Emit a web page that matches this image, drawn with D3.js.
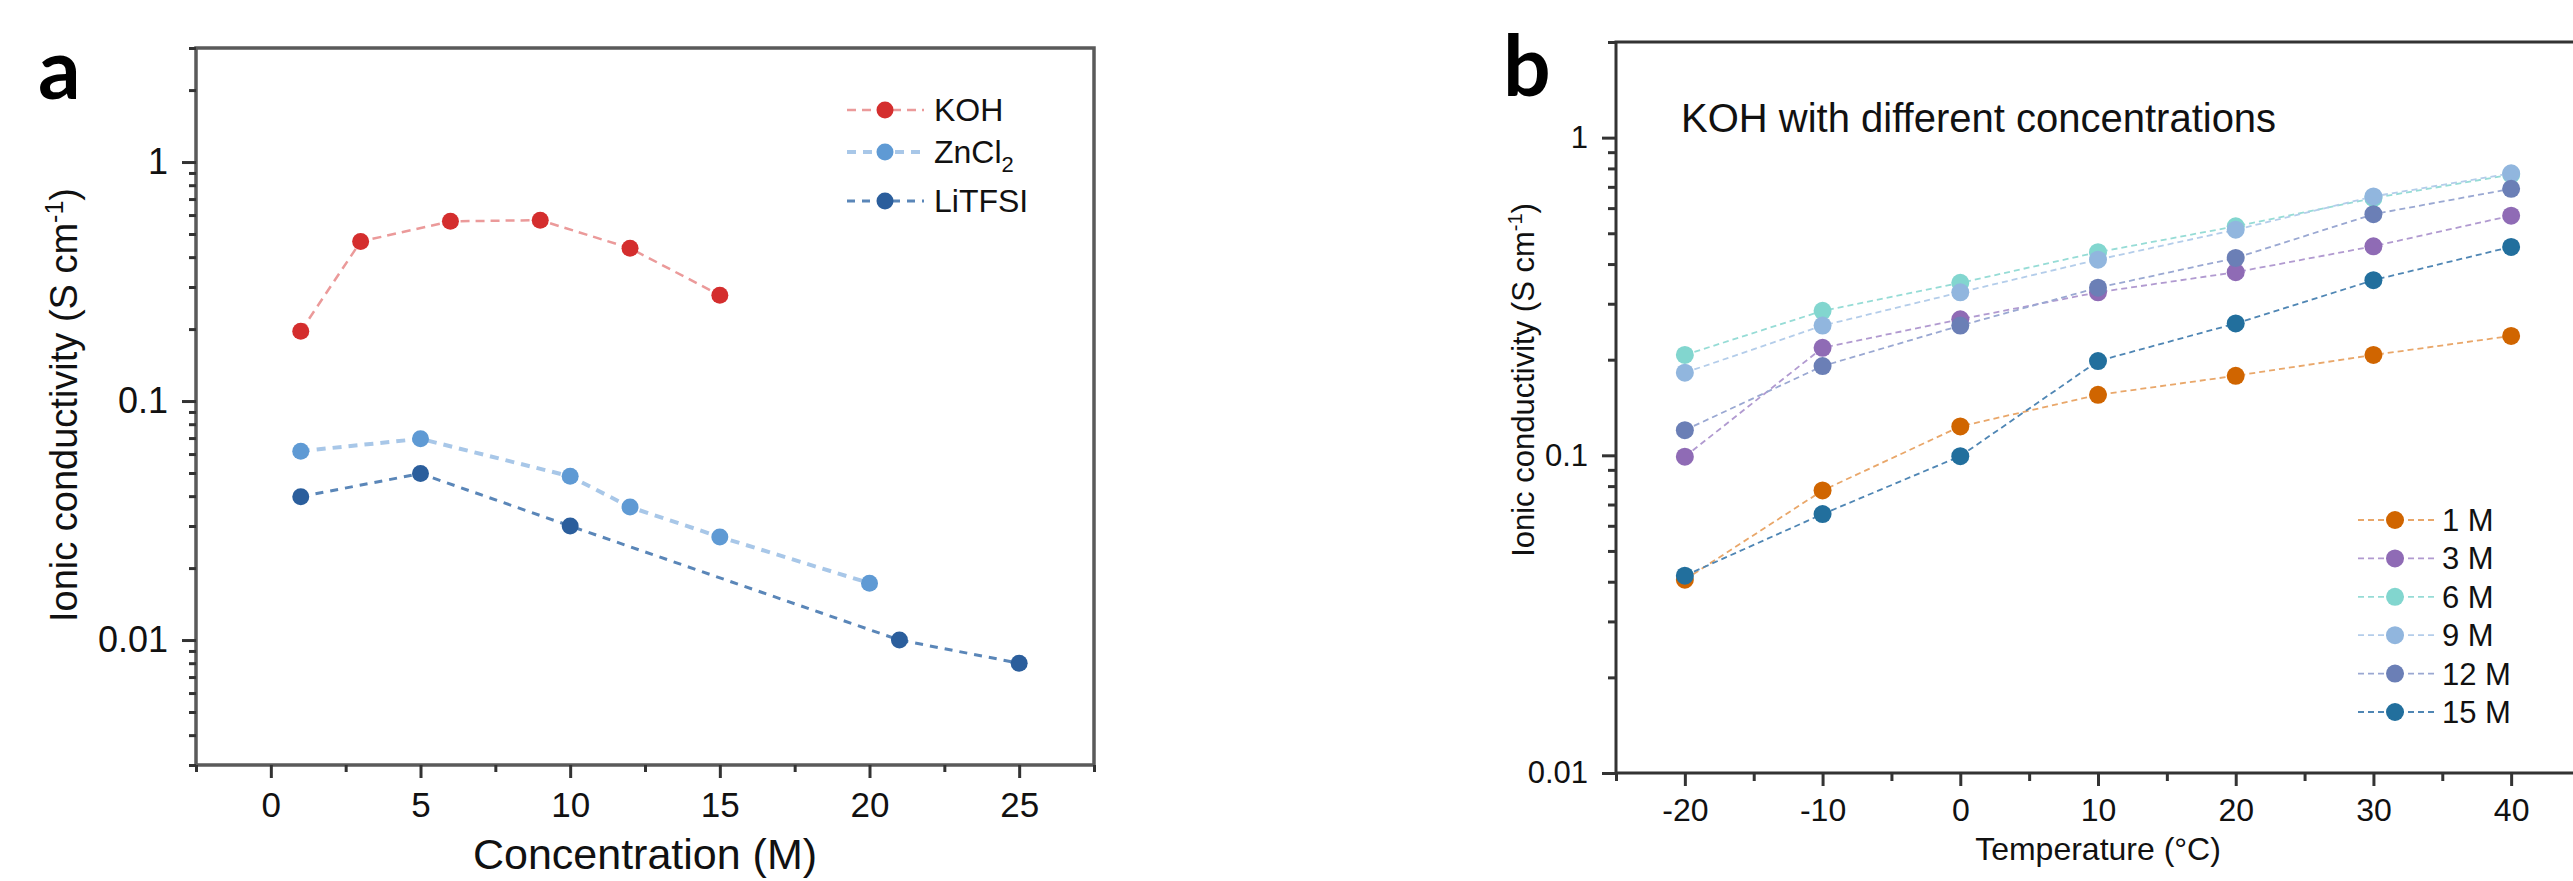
<!DOCTYPE html>
<html>
<head>
<meta charset="utf-8">
<script src="https://cdn.jsdelivr.net/npm/d3@7"></script>
<style>
  body { margin: 0; background: #fff; }
  text { font-family: "Liberation Sans", Arial, sans-serif; fill: #111; }
</style>
</head>
<body>
<div id="chart"></div>
<script>
// panel a: conductivity vs concentration
var concKOH = [1, 3, 6, 9, 12, 15];
var sigmaKOH = [0.196, 0.465, 0.565, 0.571, 0.436, 0.277];
var concZnCl2 = [1, 5, 10, 12, 15, 20];
var sigmaZnCl2 = [0.0617, 0.0695, 0.0484, 0.036, 0.027, 0.0173];
var concLiTFSI = [1, 5, 10, 21, 25];
var sigmaLiTFSI = [0.0398, 0.0497, 0.030, 0.010, 0.0080];
var concTicks = [0, 5, 10, 15, 20, 25];

// panel b: KOH conductivity vs temperature
var temps = [-20, -10, 0, 10, 20, 30, 40];
var koh1M = [0.0406, 0.0775, 0.1233, 0.155, 0.178, 0.207, 0.2376];
var koh3M = [0.099, 0.218, 0.268, 0.326, 0.377, 0.455, 0.568];
var koh6M = [0.207, 0.285, 0.349, 0.436, 0.526, 0.645, 0.765];
var koh9M = [0.182, 0.256, 0.326, 0.413, 0.513, 0.653, 0.772];
var koh12M = [0.120, 0.191, 0.256, 0.337, 0.418, 0.574, 0.690];
var koh15M = [0.0418, 0.0653, 0.0994, 0.198, 0.260, 0.356, 0.453];
var tempTicks = [-20, -10, 0, 10, 20, 30, 40];
var kohLabels = ["1 M", "3 M", "6 M", "9 M", "12 M", "15 M"];

var svgWidth = 2573;
var svgHeight = 881;

var svg = d3.select("#chart").append("svg")
    .attr("width", svgWidth)
    .attr("height", svgHeight)
    .style("display", "block");

svg.append("rect").attr("width", svgWidth).attr("height", svgHeight).attr("fill", "#fff");

// plain number labels (hyphen minus like the original)
var plain = d => String(d);

// log y axis: long major + short minor ticks
function logAxis(g, y, x0, majors, fontSize, majorLen, minorLen, color) {
    var minors = y.ticks().filter(function(v) { return majors.indexOf(v) < 0; });
    g.append("g")
        .attr("transform", `translate(${x0},0)`)
        .call(d3.axisLeft(y).tickValues(minors).tickSize(minorLen).tickFormat(""))
        .call(s => s.select(".domain").remove())
        .selectAll("line").attr("stroke", color).attr("stroke-width", 3);
    var ax = g.append("g")
        .attr("transform", `translate(${x0},0)`)
        .call(d3.axisLeft(y).tickValues(majors).tickSize(majorLen).tickPadding(14).tickFormat(plain));
    ax.select(".domain").remove();
    ax.selectAll("line").attr("stroke", color).attr("stroke-width", 3);
    ax.selectAll("text").attr("font-size", fontSize).attr("fill", "#111")
        .style("font-family", "Liberation Sans, Arial, sans-serif");
}

function linAxis(g, x, y0, majors, minors, fontSize, majorLen, minorLen, color, pad) {
    g.append("g")
        .attr("transform", `translate(0,${y0})`)
        .call(d3.axisBottom(x).tickValues(minors).tickSize(minorLen).tickFormat(""))
        .call(s => s.select(".domain").remove())
        .selectAll("line").attr("stroke", color).attr("stroke-width", 3);
    var ax = g.append("g")
        .attr("transform", `translate(0,${y0})`)
        .call(d3.axisBottom(x).tickValues(majors).tickSize(majorLen).tickPadding(pad).tickFormat(plain));
    ax.select(".domain").remove();
    ax.selectAll("line").attr("stroke", color).attr("stroke-width", 3);
    ax.selectAll("text").attr("font-size", fontSize).attr("fill", "#111")
        .style("font-family", "Liberation Sans, Arial, sans-serif");
}

function frame(g, x, y, color, w) {
    var x0 = x.range()[0], x1 = x.range()[1], y0 = y.range()[0], y1 = y.range()[1];
    g.append("path")
        .attr("d", `M${x0},${y1}H${x1}V${y0}H${x0}Z`)
        .attr("fill", "none").attr("stroke", color).attr("stroke-width", w);
}

function series(g, x, y, xs, ys, markColor, lineColor, lineW, dash, r) {
    var pts = xs.map((v, i) => [v, ys[i]]);
    g.append("path")
        .datum(pts)
        .attr("fill", "none")
        .attr("stroke", lineColor)
        .attr("stroke-width", lineW)
        .attr("stroke-dasharray", dash)
        .attr("d", d3.line().x(d => x(d[0])).y(d => y(d[1])));
    g.selectAll(null)
        .data(pts)
        .enter()
        .append("circle")
        .attr("cx", d => x(d[0]))
        .attr("cy", d => y(d[1]))
        .attr("r", r)
        .attr("fill", markColor);
}

// ---------------- panel a ----------------
var ga = svg.append("g");
var xa = d3.scaleLinear().domain([-2.5, 27.5]).range([196, 1094]);
var ya = d3.scaleLog().domain([0.003, 3]).range([765, 48]);

series(ga, xa, ya, concKOH, sigmaKOH, "#d42e2e", "#eb9a9a", 2.5, "9,6", 8.5);
series(ga, xa, ya, concZnCl2, sigmaZnCl2, "#5f9ad4", "#a8c7e8", 4, "9,7", 8.5);
series(ga, xa, ya, concLiTFSI, sigmaLiTFSI, "#2b5e9c", "#5a86b8", 3, "8,7", 8.5);

frame(ga, xa, ya, "#5a5a5a", 3.5);
logAxis(ga, ya, 196, [0.01, 0.1, 1], 36, 14, 7, "#333");
linAxis(ga, xa, 765, concTicks, [-2.5, 2.5, 7.5, 12.5, 17.5, 22.5, 27.5], 35, 13, 7, "#333", 14);

ga.append("text")
    .attr("x", xa(12.5)).attr("y", 869)
    .attr("text-anchor", "middle").attr("font-size", 43)
    .text("Concentration (M)");

var yta = ga.append("text")
    .attr("transform", "translate(77,405) rotate(-90)")
    .attr("text-anchor", "middle").attr("font-size", 38);
yta.append("tspan").text("Ionic conductivity (S cm");
yta.append("tspan").attr("font-size", 25).attr("dy", -14).text("-1");
yta.append("tspan").attr("dy", 14).text(")");

// legend a
var legA = [
    {name: "KOH", sub: "", mark: "#d42e2e", line: "#eb9a9a", w: 2.5, dash: "9,6", y: 110},
    {name: "ZnCl", sub: "2", mark: "#5f9ad4", line: "#a8c7e8", w: 4, dash: "9,7", y: 152},
    {name: "LiTFSI", sub: "", mark: "#2b5e9c", line: "#5a86b8", w: 3, dash: "8,7", y: 201}
];
legA.forEach(function(d) {
    ga.append("line").attr("x1", 847).attr("x2", 924).attr("y1", d.y).attr("y2", d.y)
        .attr("stroke", d.line).attr("stroke-width", d.w).attr("stroke-dasharray", d.dash);
    ga.append("circle").attr("cx", 885).attr("cy", d.y).attr("r", 8.5).attr("fill", d.mark);
    var t = ga.append("text").attr("x", 934).attr("y", d.y + 11).attr("font-size", 32);
    t.append("tspan").text(d.name);
    if (d.sub) t.append("tspan").attr("font-size", 22).attr("dy", 9).text(d.sub);
});

ga.append("text")
    .attr("x", 38).attr("y", 99)
    .attr("font-size", 84).attr("font-weight", "bold")
    .style("font-family", "Lato, 'Open Sans', sans-serif")
    .style("fill", "#000")
    .text("a");

// ---------------- panel b ----------------
var gb = svg.append("g");
var xb = d3.scaleLinear().domain([-25, 45]).range([1616, 2580]);
var yb = d3.scaleLog().domain([0.01, 2]).range([773, 42]);

var kohSeries = [koh1M, koh3M, koh6M, koh9M, koh12M, koh15M];
var kohMark = ["#d06500", "#8f6bb5", "#82d6cf", "#91b6de", "#6b7fb6", "#226f9d"];
var kohLine = ["#e9a76a", "#b19ad0", "#96dcd6", "#b4cdea", "#9aa8d2", "#4f86b4"];

kohSeries.forEach(function(s, i) {
    series(gb, xb, yb, temps, s, kohMark[i], kohLine[i], 1.8, "6,4", 9);
});

frame(gb, xb, yb, "#333", 3);
logAxis(gb, yb, 1616, [0.01, 0.1, 1], 31, 14, 8, "#333");
linAxis(gb, xb, 773, tempTicks, [-25, -15, -5, 5, 15, 25, 35], 32, 13, 8, "#333", 12);

gb.append("text")
    .attr("x", xb(10)).attr("y", 860)
    .attr("text-anchor", "middle").attr("font-size", 32)
    .text("Temperature (°C)");

var ytb = gb.append("text")
    .attr("transform", "translate(1534,380) rotate(-90)")
    .attr("text-anchor", "middle").attr("font-size", 31);
ytb.append("tspan").text("Ionic conductivity (S cm");
ytb.append("tspan").attr("font-size", 20).attr("dy", -12).text("-1");
ytb.append("tspan").attr("dy", 12).text(")");

gb.append("text")
    .attr("x", 1681).attr("y", 132)
    .attr("font-size", 40)
    .text("KOH with different concentrations");

// legend b
kohLabels.forEach(function(lab, i) {
    var ly = 520 + i * 38.4;
    gb.append("line").attr("x1", 2358).attr("x2", 2435).attr("y1", ly).attr("y2", ly)
        .attr("stroke", kohLine[i]).attr("stroke-width", 1.8).attr("stroke-dasharray", "6,4");
    gb.append("circle").attr("cx", 2395).attr("cy", ly).attr("r", 9).attr("fill", kohMark[i]);
    gb.append("text").attr("x", 2442).attr("y", ly + 11).attr("font-size", 31).text(lab);
});

gb.append("text")
    .attr("x", 1503).attr("y", 96)
    .attr("font-size", 84).attr("font-weight", "bold")
    .style("font-family", "Lato, 'Open Sans', sans-serif")
    .style("fill", "#000")
    .text("b");
</script>
</body>
</html>
